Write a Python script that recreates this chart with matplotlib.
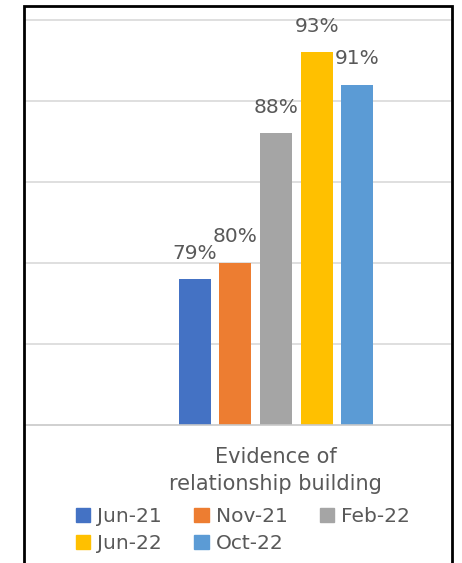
import matplotlib
matplotlib.use("Agg")
import matplotlib.pyplot as plt
import matplotlib.patches as mpatches

# Chart data
category = "Evidence of\nrelationship building"
series = ["Jun-21", "Nov-21", "Feb-22", "Jun-22", "Oct-22"]
values = [79, 80, 88, 93, 91]
colors = ["#4472C4", "#ED7D31", "#A5A5A5", "#FFC000", "#5B9BD5"]
y_ticks = [70, 75, 80, 85, 90, 95]

W, H = 462, 563
fig = plt.figure(figsize=(W / 100, H / 100), dpi=100)

# plot area (left part of the original chart is cropped away)
ax = fig.add_axes([25 / W, 1 - 425 / H, (450 - 25) / W, (425 - 20) / H])

text_color = "#595959"
offsets = [i - 2 for i in range(len(series))]
bars = ax.bar(offsets, values, width=0.79, color=colors, zorder=3)

ax.set_ylim(y_ticks[0], y_ticks[-1])
ax.set_xlim(-6.17, 4.28)
ax.set_yticks(y_ticks)
ax.tick_params(axis="y", left=False, labelleft=False)
for y in y_ticks[1:]:
    ax.axhline(y, color="#d9d9d9", lw=1.2, zorder=1, clip_on=False)
ax.axhline(y_ticks[0], color="#c8c8c8", lw=1.2, zorder=4, clip_on=False)

for s in ax.spines.values():
    s.set_visible(False)

# category label under the group
ax.set_xticks([0])
ax.set_xticklabels([category], fontsize=15, color=text_color, linespacing=1.45)
ax.tick_params(axis="x", length=0, pad=16)

# value labels above bars
for b, v in zip(bars, values):
    ax.annotate(f"{v}%", xy=(b.get_x() + b.get_width() / 2, v),
                xytext=(0, 26), textcoords="offset pixels",
                ha="center", va="center", fontsize=14.5, color=text_color,
                annotation_clip=False)

# legend: Excel style, 3 columns (matplotlib fills column-wise)
order = [0, 3, 1, 4, 2]
handles = [mpatches.Patch(color=colors[i], label=series[i]) for i in order]
leg = fig.legend(handles=handles, ncol=3, frameon=False,
                 loc="center", bbox_to_anchor=(243 / W, 1 - 530 / H),
                 fontsize=14.5, handlelength=0.72, handleheight=0.72,
                 handletextpad=0.35, columnspacing=1.6, labelspacing=0.4)
for t in leg.get_texts():
    t.set_color(text_color)

# black frame around the chart
frame = mpatches.Rectangle((24 / W, -0.05), (452 - 24) / W, 1.05 - 6 / H,
                           transform=fig.transFigure, fill=False,
                           edgecolor="black", lw=2)
fig.patches.append(frame)

fig.savefig("out.png", dpi=100)
